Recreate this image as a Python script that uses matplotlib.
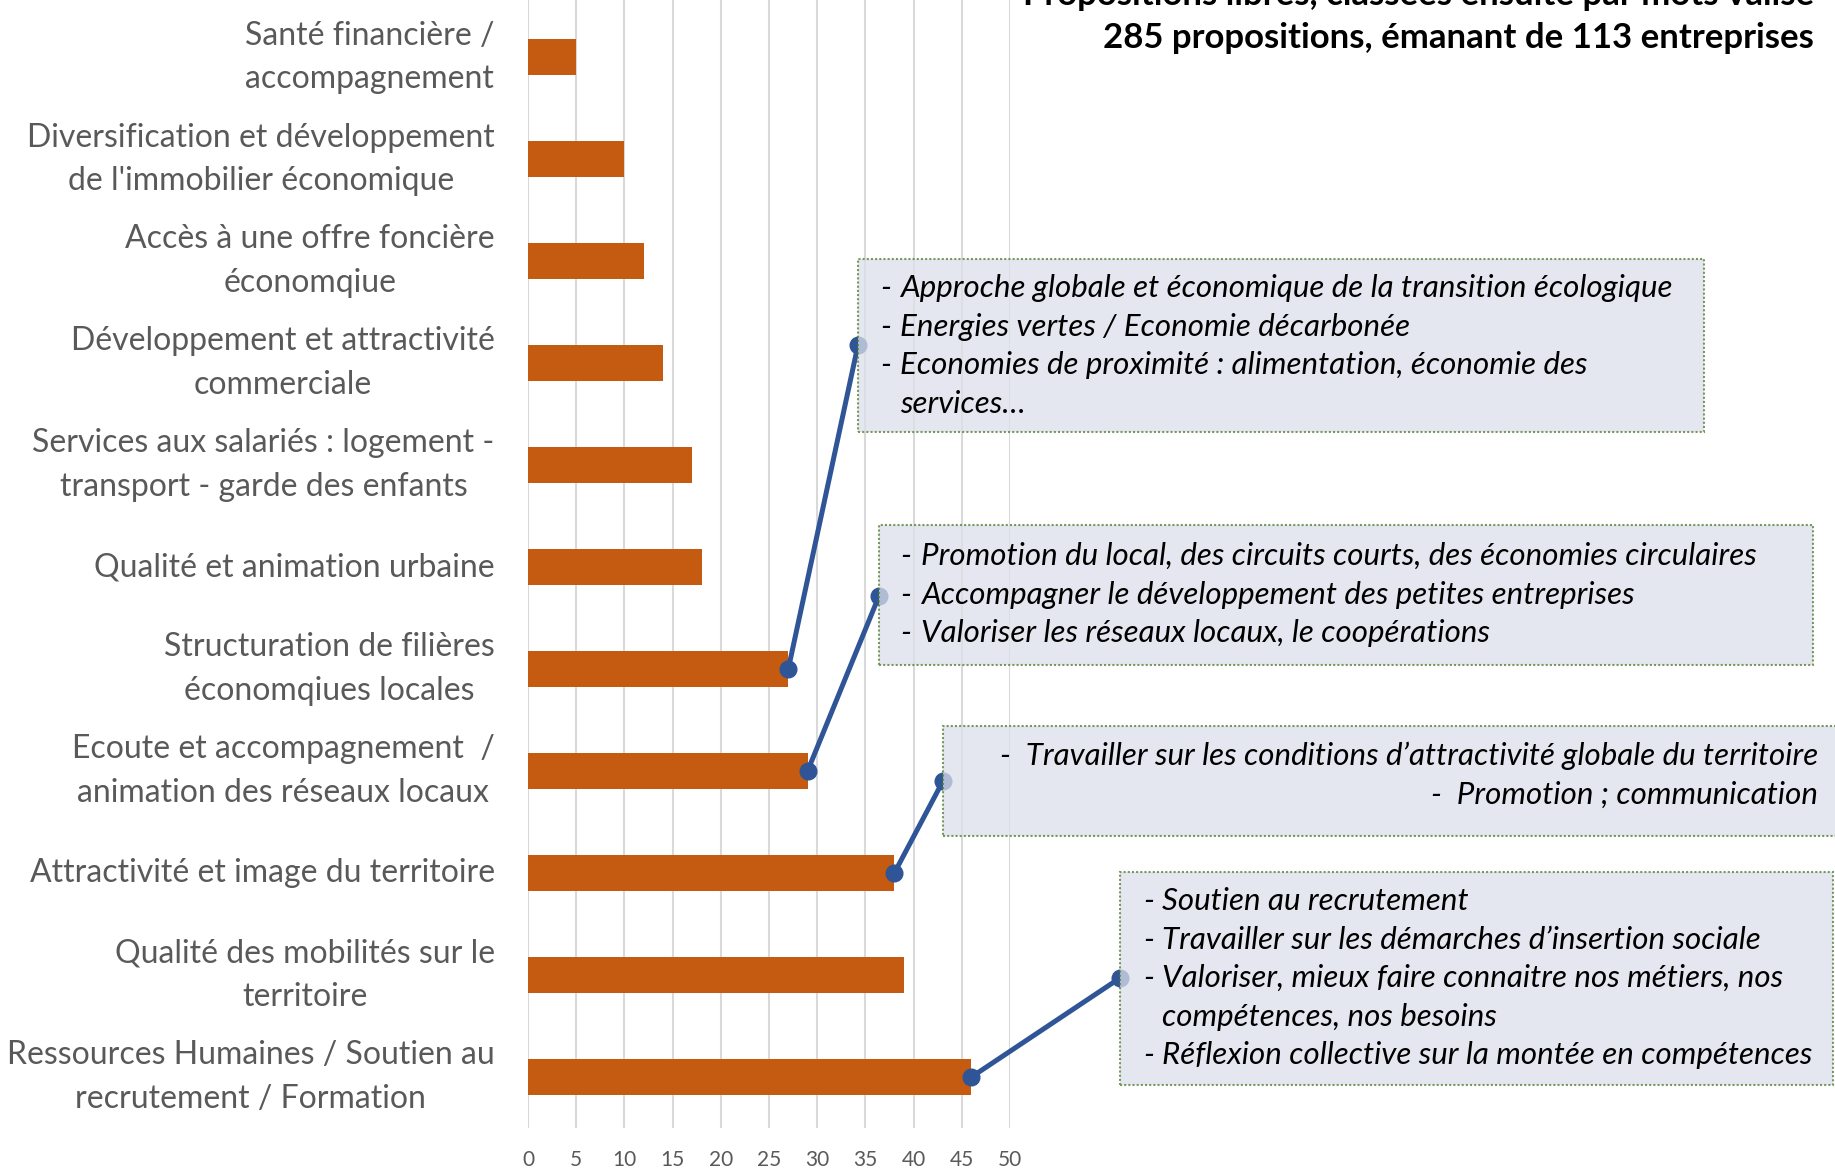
import numpy as np
import matplotlib.pyplot as plt
from matplotlib.patches import Rectangle

plt.rcParams['font.family'] = ['Lato', 'DejaVu Sans']

W, H = 1835, 1169

# categories, top to bottom
categories = [
    "Santé financière /\naccompagnement",
    "Diversification et développement\nde l'immobilier économique",
    "Accès à une offre foncière\néconomqiue",
    "Développement et attractivité\ncommerciale",
    "Services aux salariés : logement -\ntransport - garde des enfants",
    "Qualité et animation urbaine",
    "Structuration de filières\néconomqiues locales",
    "Ecoute et accompagnement  /\nanimation des réseaux locaux",
    "Attractivité et image du territoire",
    "Qualité des mobilités sur le\nterritoire",
    "Ressources Humaines / Soutien au\nrecrutement / Formation",
]
counts = [5, 10, 12, 14, 17, 18, 27, 29, 38, 39, 46]
xticks = [0, 5, 10, 15, 20, 25, 30, 35, 40, 45, 50]

title1 = "Propositions libres, classées ensuite par mots valise"
title2 = "285 propositions, émanant de 113 entreprises"

# callouts: which bar they point at, and their lines
callout_bars = [6, 7, 8, 10]
callout_lines = [
    ["Approche globale et économique de la transition écologique",
     "Energies vertes / Economie décarbonée",
     "Economies de proximité : alimentation, économie des\nservices…"],
    ["Promotion du local, des circuits courts, des économies circulaires",
     "Accompagner le développement des petites entreprises",
     "Valoriser les réseaux locaux, le coopérations"],
    ["Travailler sur les conditions d’attractivité globale du territoire",
     "Promotion ; communication"],
    ["Soutien au recrutement",
     "Travailler sur les démarches d’insertion sociale",
     "Valoriser, mieux faire connaitre nos métiers, nos\ncompétences, nos besoins",
     "Réflexion collective sur la montée en compétences"],
]

# layout in pixels (from top-left): box x0, y0, x1, y1, first line y, dash x, text x, anchor y
boxes = [
    (858, 259, 1704, 432, 288, 880, 900, 345),
    (879, 525, 1813, 665, 556, 900, 921, 596),
    (943, 726, 1845, 836, 756, None, 1818, 781),
    (1120, 872, 1833, 1085, 901, 1143, 1162, 978),
]
line_h = 38.6
box_fs = 22.5

def fx(x):
    return x / W

def fy(y):
    return 1 - y / H

fig = plt.figure(figsize=(W / 100, H / 100), dpi=100)
ax = fig.add_axes([fx(528), fy(1128), fx(1010) - fx(528), 1 - fy(1128)])

ax.barh(np.arange(len(categories)), counts, height=0.35, color='#C55A11', zorder=2)
ax.set_yticks(np.arange(len(categories)))
ax.set_yticklabels(categories, fontsize=23, color='#595959', linespacing=1.55)
for lab in ax.get_yticklabels():
    lab.set_multialignment('center')
    lab.set_va('center')
ax.set_ylim(len(categories) - 0.5, -0.56)
ax.set_xlim(0, 50)
ax.set_xticks(xticks)
ax.tick_params(axis='y', length=0, pad=24)
ax.tick_params(axis='x', length=0, pad=16, labelsize=15, labelcolor='#595959')
ax.grid(axis='x', color='#D9D9D9', linewidth=1.5, zorder=0)
ax.set_axisbelow(True)
for s in ax.spines.values():
    s.set_visible(False)

blue = '#2F5597'
for (bx0, by0, bx1, by1, ly, dx, tx, ay), bar, lines in zip(boxes, callout_bars, callout_lines):
    # connector line + dots
    ax.annotate('', xy=(counts[bar], bar), xycoords='data',
                xytext=(fx(bx0), fy(ay)), textcoords='figure fraction',
                arrowprops=dict(arrowstyle='-', color=blue, lw=3.6, shrinkA=0, shrinkB=0),
                zorder=4, annotation_clip=False)
    ax.plot([counts[bar]], [bar], 'o', color=blue, ms=12, zorder=5, clip_on=False)
    fig.add_artist(plt.Line2D([fx(bx0)], [fy(ay)], marker='o', color=blue, ms=12,
                              transform=fig.transFigure, zorder=5))
    # box
    fig.add_artist(Rectangle((fx(bx0), fy(by1)), fx(bx1) - fx(bx0), fy(by0) - fy(by1),
                             transform=fig.transFigure, facecolor='#DCE0EA', alpha=0.75,
                             edgecolor='#4E7A2E', linestyle=(0, (1, 1)), linewidth=1.5,
                             zorder=6))
    y = ly
    for line in lines:
        if dx is None:
            fig.text(fx(tx), fy(y), '-  ' + line, ha='right', va='center', fontsize=box_fs,
                     style='italic', color='black', zorder=7)
            y += line_h
            continue
        fig.text(fx(dx), fy(y), '-', ha='left', va='center', fontsize=box_fs,
                 style='italic', color='black', zorder=7)
        for k, part in enumerate(line.split('\n')):
            fig.text(fx(tx), fy(y + k * line_h), part, ha='left', va='center',
                     fontsize=box_fs, style='italic', color='black', zorder=7)
        y += line_h * (line.count('\n') + 1)

fig.text(fx(1814), fy(-5), title1, ha='right', va='center', fontsize=25,
         fontweight='bold', color='black')
fig.text(fx(1814), fy(37.5), title2, ha='right', va='center', fontsize=25,
         fontweight='bold', color='black')

fig.savefig('out.png', dpi=100)
